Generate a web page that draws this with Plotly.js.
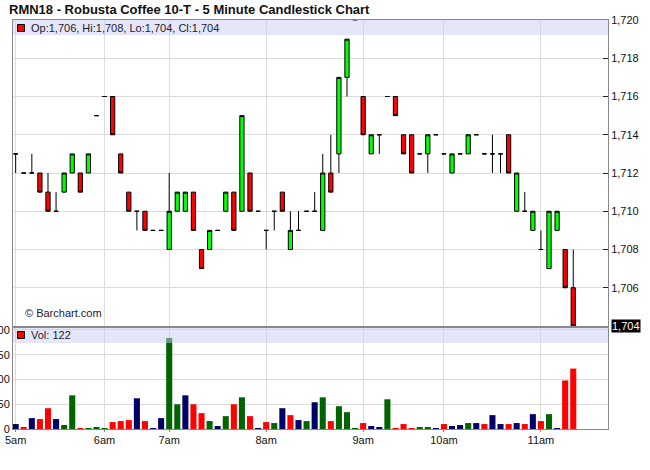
<!DOCTYPE html>
<html>
<head>
<meta charset="utf-8">
<script src="https://cdn.plot.ly/plotly-3.0.1.min.js"></script>
<style>
html,body{margin:0;padding:0;background:#fff;}
#chart{width:650px;height:470px;}
</style>
</head>
<body>
<div id="chart"></div>
<script>
// ---- data (5-minute bars, index 0 = 5:00am) ----
const barIndex = Array.from({length: 70}, (_, i) => i);
const openP  = [1713,1712,1712,1712,1711,1710,1711,1712,1712,1712,1715,1716,1716,1713,1711,1710,1710,1709,1709,1708,
                1710,1710,1711,1708,1708,1709,1710,1711,1710,1712,1710,1709,1710,1711,1708,1709,1710,1710,1709,1712,
                1713,1717,1720,1716,1713,1714,1716,1716,1714,1714,1713,1713,1714,1713,1712,1713,1713,1714,1713,1713,
                1713,1714,1710,1710,1709,1708,1707,1709,1708,1706];
const highP  = [1713,1712,1713,1712,1712,1711,1712,1713,1712,1713,1715,1716,1716,1713,1711,1710,1710,1709,1709,1712,
                1711,1711,1711,1708,1709,1709,1711,1711,1715,1712,1710,1709,1710,1711,1710,1710,1710,1711,1713,1714,
                1717,1719,1720,1716,1714,1714,1716,1716,1714,1714,1713,1714,1714,1713,1713,1713,1714,1714,1713,1714,
                1713,1714,1712,1711,1710,1709,1710,1710,1708,1708];
const lowP   = [1712,1712,1712,1711,1710,1710,1711,1712,1711,1712,1715,1716,1714,1712,1710,1709,1709,1709,1709,1708,
                1710,1710,1709,1707,1708,1709,1710,1709,1710,1710,1710,1708,1709,1710,1708,1709,1710,1710,1709,1711,
                1712,1716,1720,1714,1713,1713,1716,1715,1713,1712,1713,1712,1714,1713,1712,1713,1713,1714,1713,1712,
                1712,1712,1710,1710,1709,1708,1707,1709,1706,1704];
const closeP = [1713,1712,1712,1711,1710,1710,1712,1713,1711,1713,1715,1716,1714,1712,1710,1710,1709,1709,1709,1710,
                1711,1711,1709,1707,1709,1709,1711,1709,1715,1710,1710,1709,1710,1710,1709,1709,1710,1710,1712,1711,
                1717,1719,1720,1714,1714,1714,1716,1715,1713,1712,1713,1714,1714,1713,1713,1713,1714,1714,1713,1713,
                1713,1712,1712,1710,1710,1708,1710,1710,1706,1704];
const volume = [10,4,22,20,42,20,8,68,2,2,4,2,14,16,18,62,16,2,22,184,
                50,68,50,32,16,6,26,50,64,26,2,14,12,42,28,18,16,54,64,16,
                46,34,2,12,6,4,60,2,10,2,4,4,2,10,6,8,12,12,10,28,
                10,10,12,10,30,16,30,2,98,122];
const hourIndex  = [0, 11, 19, 31, 43, 53, 65];
const hourLabels = ['5am','6am','7am','8am','9am','10am','11am'];
const priceTicks = [1704,1706,1708,1710,1712,1714,1716,1718,1720];
const volTicks   = [0,50,100,150,200];

// ---- styling helpers ----
const FONT = 'Liberation Sans, Arial, sans-serif';
const W = 650, H = 470;
const M = {l: 13, r: 42, t: 20, b: 41};
const plotH = H - M.t - M.b, plotW = W - M.l - M.r;
const px = x => (x - M.l) / plotW;
const py = y => (H - M.b - y) / plotH;

const volColors = closeP.map((c, i) => {
  if (i === 0 || c === closeP[i - 1]) return '#000066';
  return c > closeP[i - 1] ? '#006400' : '#ff0000';
});

const last = closeP.length - 1;
const ohlcText = 'Op:' + openP[last].toLocaleString('en-US') + ', Hi:' + highP[last].toLocaleString('en-US') +
                 ', Lo:' + lowP[last].toLocaleString('en-US') + ', Cl:' + closeP[last].toLocaleString('en-US');

const candles = {
  type: 'candlestick',
  x: barIndex, open: openP, high: highP, low: lowP, close: closeP,
  xaxis: 'x2', yaxis: 'y2',
  increasing: {fillcolor: '#00ff00', line: {color: '#000000', width: 1}},
  decreasing: {fillcolor: '#ff0000', line: {color: '#000000', width: 1}},
  whiskerwidth: 0,
  hoverinfo: 'none', showlegend: false
};
const vols = {
  type: 'bar', x: barIndex, y: volume,
  xaxis: 'x', yaxis: 'y',
  marker: {color: volColors, line: {width: 0}},
  hoverinfo: 'none', showlegend: false
};

const xRange = [-0.33, 73.3];
const layout = {
  width: W, height: H,
  margin: M,
  paper_bgcolor: '#ffffff', plot_bgcolor: '#ffffff',
  font: {family: FONT, size: 11, color: '#111'},
  showlegend: false,
  bargap: 0.25,
  boxgap: 0.25,
  title: {
    text: '<b>RMN18 - Robusta Coffee 10-T - 5 Minute Candlestick Chart</b>',
    font: {family: FONT, size: 13, color: '#111'},
    xref: 'container', yref: 'container',
    x: 9 / W, xanchor: 'left', y: 1 - 9 / H, yanchor: 'middle'
  },
  xaxis: {
    domain: [0, 1], anchor: 'y', range: xRange, type: 'linear',
    tickmode: 'array', tickvals: hourIndex, ticktext: hourLabels,
    ticks: 'outside', ticklen: 2, tickcolor: '#888', ticklabelstandoff: -1,
    tickfont: {family: FONT, size: 11, color: '#111'},
    showgrid: true, gridcolor: '#dcdcdc', gridwidth: 1,
    showline: true, mirror: true, linecolor: '#888', linewidth: 1,
    zeroline: false, rangeslider: {visible: false}, fixedrange: true
  },
  xaxis2: {
    domain: [0, 1], anchor: 'y2', range: xRange, type: 'linear', matches: 'x',
    tickmode: 'array', tickvals: hourIndex, ticktext: hourLabels,
    showticklabels: false, ticks: '',
    showgrid: true, gridcolor: '#dcdcdc', gridwidth: 1,
    showline: true, mirror: true, linecolor: '#888', linewidth: 1,
    zeroline: false, rangeslider: {visible: false}, fixedrange: true
  },
  yaxis: {
    domain: [0, py(328)], anchor: 'x', range: [0, 204], side: 'left',
    tickmode: 'array', tickvals: volTicks,
    ticks: '', tickfont: {family: FONT, size: 11, color: '#111'},
    showgrid: true, gridcolor: '#dcdcdc', gridwidth: 1,
    showline: true, mirror: true, linecolor: '#888', linewidth: 1,
    zeroline: false, fixedrange: true
  },
  yaxis2: {
    domain: [py(326), 1], anchor: 'x2', range: [1704, 1720], side: 'right',
    tickmode: 'array', tickvals: priceTicks, tickformat: ',d',
    ticks: 'inside', ticklen: 5, tickcolor: '#222',
    tickfont: {family: FONT, size: 11, color: '#111'},
    showgrid: true, gridcolor: '#dcdcdc', gridwidth: 1,
    showline: true, mirror: true, linecolor: '#888', linewidth: 1,
    zeroline: false, fixedrange: true
  },
  shapes: [
    {type: 'rect', xref: 'paper', yref: 'paper', x0: 0, x1: 1, y0: py(35), y1: 1,
     fillcolor: 'rgba(205,205,245,0.5)', line: {width: 0}, layer: 'above'},
    {type: 'rect', xref: 'paper', yref: 'paper', x0: 0, x1: 1, y0: py(343), y1: py(328),
     fillcolor: 'rgba(205,205,245,0.5)', line: {width: 0}, layer: 'above'},
    {type: 'rect', xref: 'paper', yref: 'paper', x0: px(17.5), x1: px(24.5), y0: py(31.5), y1: py(24.5),
     fillcolor: '#ff0000', line: {color: '#000', width: 1}, layer: 'above'},
    {type: 'rect', xref: 'paper', yref: 'paper', x0: px(17.5), x1: px(24.5), y0: py(338.5), y1: py(331.5),
     fillcolor: '#ff0000', line: {color: '#000', width: 1}, layer: 'above'}
  ],
  annotations: [
    {xref: 'paper', yref: 'paper', x: px(29), y: py(28), xanchor: 'left', yanchor: 'middle',
     text: ohlcText, showarrow: false, font: {family: FONT, size: 11, color: '#1a1a2e'}},
    {xref: 'paper', yref: 'paper', x: px(29), y: py(335), xanchor: 'left', yanchor: 'middle',
     text: 'Vol: ' + volume[last], showarrow: false, font: {family: FONT, size: 11, color: '#1a1a2e'}},
    {xref: 'paper', yref: 'paper', x: px(23), y: py(313), xanchor: 'left', yanchor: 'middle',
     text: '© Barchart.com', showarrow: false, font: {family: FONT, size: 11, color: '#1a1a2e'}},
    {xref: 'paper', yref: 'y2', x: 1, xshift: 3, y: closeP[last], xanchor: 'left', yanchor: 'middle',
     text: closeP[last].toLocaleString('en-US'), showarrow: false, bgcolor: '#000000', borderpad: 0,
     font: {family: FONT, size: 11, color: '#ffffff'}}
  ]
};

Plotly.newPlot('chart', [vols, candles], layout, {staticPlot: true, displayModeBar: false});
</script>
</body>
</html>
